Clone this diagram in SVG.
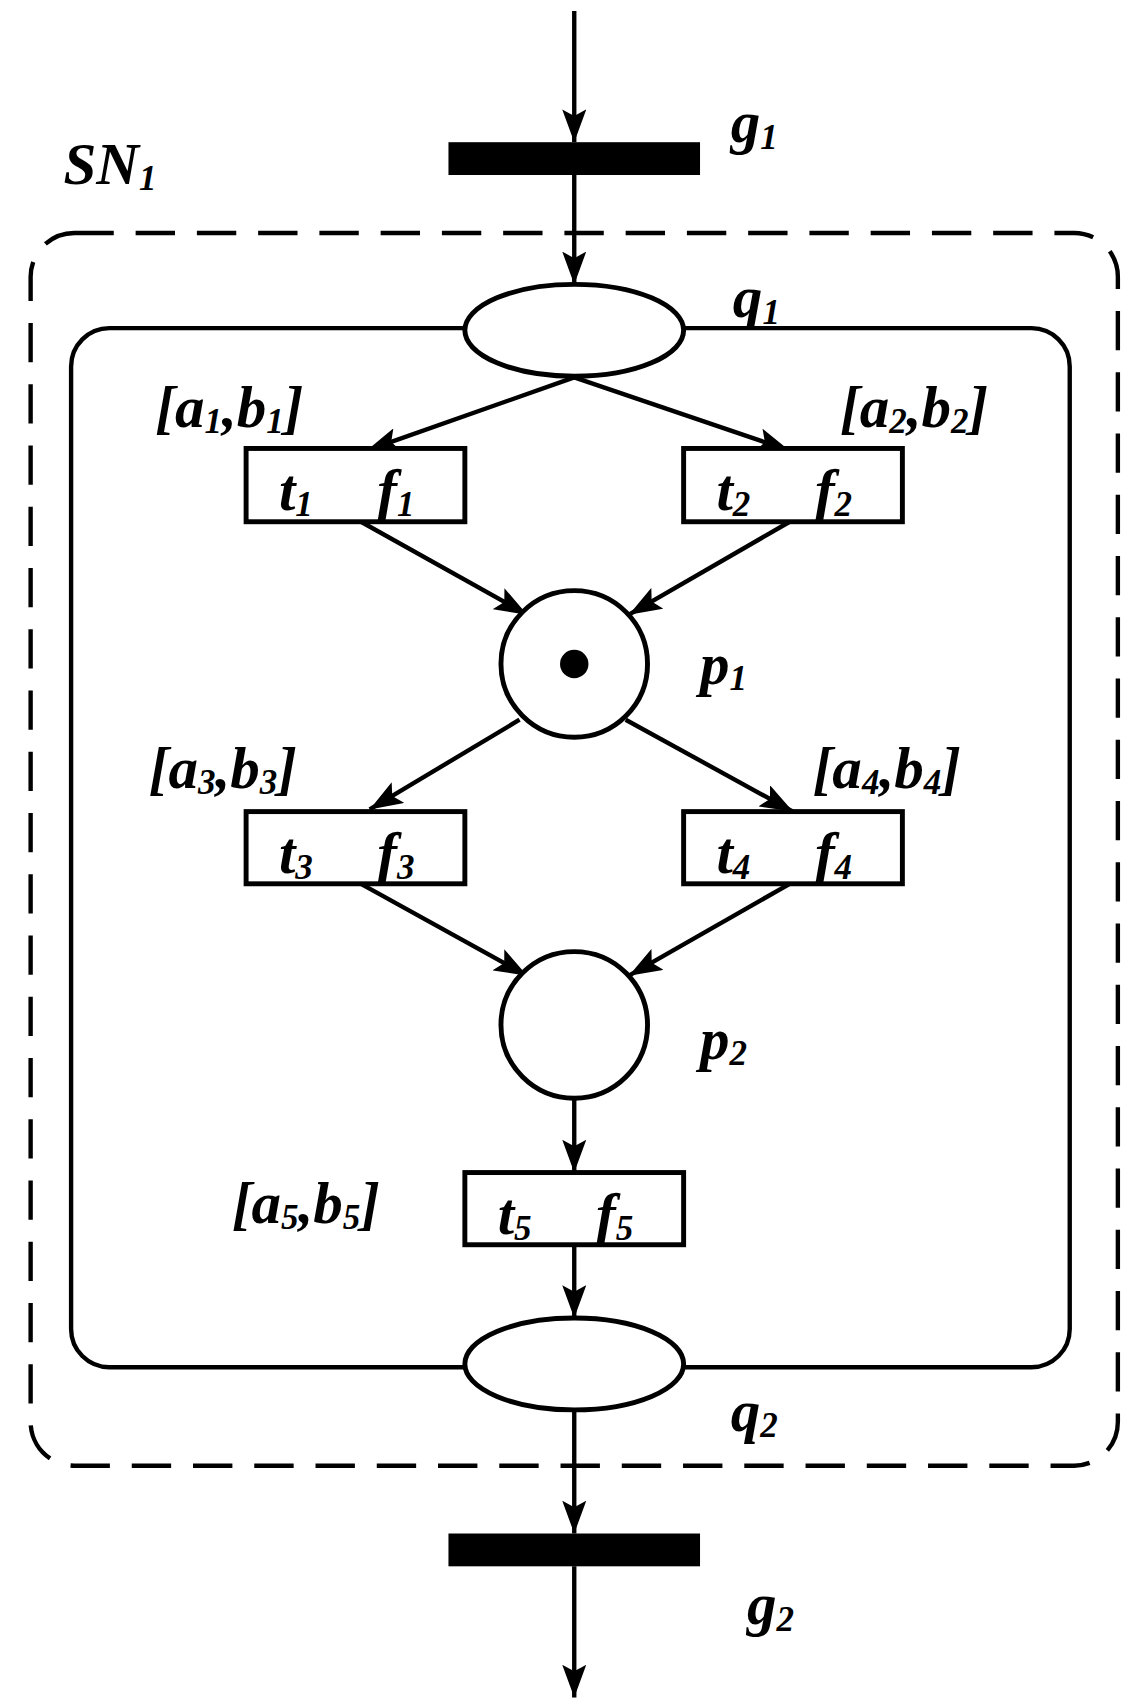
<svg xmlns="http://www.w3.org/2000/svg" width="1143" height="1705" viewBox="0 0 1143 1705">
<style>
.t{font-family:"Liberation Serif",serif;font-weight:bold;font-style:italic;font-size:54px;fill:#000}
.s{font-size:32px}
.ln{stroke:#000;stroke-width:4;fill:none}
.nd{stroke:#000;stroke-width:4.5;fill:#fff}
</style>
<defs>
<marker id="ah" markerUnits="userSpaceOnUse" markerWidth="32" markerHeight="22" refX="30" refY="11" orient="auto">
<path d="M0,0 L30,11 L0,22 L6,11 z" fill="#000"/>
</marker>
</defs>
<rect width="1143" height="1705" fill="#fff"/>
<g transform="scale(1.0938)">
<g id="containers">
<rect x="28" y="213" width="994" height="1127" rx="40" fill="none" stroke="#000" stroke-width="4" stroke-dasharray="36,20"/>
<rect x="65" y="300" width="913" height="950" rx="35" class="ln"/>
</g>
<g id="connectors" class="ln">
<line x1="525" y1="10" x2="525" y2="130" marker-end="url(#ah)"/>
<line x1="525" y1="160" x2="525" y2="260" marker-end="url(#ah)"/>
<line x1="525" y1="345" x2="335" y2="412" marker-end="url(#ah)"/>
<line x1="525" y1="345" x2="722" y2="412" marker-end="url(#ah)"/>
<line x1="330" y1="477" x2="482" y2="562" marker-end="url(#ah)"/>
<line x1="722" y1="477" x2="575" y2="562" marker-end="url(#ah)"/>
<line x1="475" y1="658" x2="338" y2="740" marker-end="url(#ah)"/>
<line x1="572" y1="658" x2="725" y2="742" marker-end="url(#ah)"/>
<line x1="330" y1="808" x2="482" y2="892" marker-end="url(#ah)"/>
<line x1="722" y1="808" x2="575" y2="892" marker-end="url(#ah)"/>
<line x1="525" y1="1004" x2="525" y2="1072" marker-end="url(#ah)"/>
<line x1="525" y1="1138" x2="525" y2="1205" marker-end="url(#ah)"/>
<line x1="525" y1="1289" x2="525" y2="1402" marker-end="url(#ah)"/>
<line x1="525" y1="1432" x2="525" y2="1552" marker-end="url(#ah)"/>
</g>
<g id="g1"><rect x="410" y="130" width="230" height="30" fill="#000"/><text class="t" x="668" y="130">g<tspan class="s" dy="6">1</tspan></text></g>
<g id="sn1"><text class="t" x="58" y="168">SN<tspan class="s" dy="6">1</tspan></text></g>
<g id="q1"><ellipse cx="525" cy="302" rx="100" ry="42" class="nd"/><text class="t" x="670" y="290">q<tspan class="s" dy="6">1</tspan></text></g>
<g id="t1"><rect x="225" y="410" width="200" height="67" class="nd"/><text class="t" x="255" y="466">t<tspan class="s" dy="6">1</tspan></text><text class="t" x="345" y="466">f<tspan class="s" dy="6">1</tspan></text><text class="t" x="142" y="390">[a<tspan class="s" dy="6">1</tspan><tspan dy="-6">,b</tspan><tspan class="s" dy="6">1</tspan><tspan dy="-6">]</tspan></text></g>
<g id="t2"><rect x="625" y="410" width="200" height="67" class="nd"/><text class="t" x="655" y="466">t<tspan class="s" dy="6">2</tspan></text><text class="t" x="745" y="466">f<tspan class="s" dy="6">2</tspan></text><text class="t" x="768" y="390">[a<tspan class="s" dy="6">2</tspan><tspan dy="-6">,b</tspan><tspan class="s" dy="6">2</tspan><tspan dy="-6">]</tspan></text></g>
<g id="p1"><circle cx="525" cy="607" r="67" class="nd"/><circle cx="525" cy="607" r="13" fill="#000"/><text class="t" x="640" y="625">p<tspan class="s" dy="6">1</tspan></text></g>
<g id="t3"><rect x="225" y="742" width="200" height="66" class="nd"/><text class="t" x="255" y="798">t<tspan class="s" dy="6">3</tspan></text><text class="t" x="345" y="798">f<tspan class="s" dy="6">3</tspan></text><text class="t" x="136" y="720">[a<tspan class="s" dy="6">3</tspan><tspan dy="-6">,b</tspan><tspan class="s" dy="6">3</tspan><tspan dy="-6">]</tspan></text></g>
<g id="t4"><rect x="625" y="742" width="200" height="66" class="nd"/><text class="t" x="655" y="798">t<tspan class="s" dy="6">4</tspan></text><text class="t" x="745" y="798">f<tspan class="s" dy="6">4</tspan></text><text class="t" x="743" y="720">[a<tspan class="s" dy="6">4</tspan><tspan dy="-6">,b</tspan><tspan class="s" dy="6">4</tspan><tspan dy="-6">]</tspan></text></g>
<g id="p2"><circle cx="525" cy="937" r="67" class="nd"/><text class="t" x="640" y="968">p<tspan class="s" dy="6">2</tspan></text></g>
<g id="t5"><rect x="425" y="1072" width="200" height="66" class="nd"/><text class="t" x="455" y="1128">t<tspan class="s" dy="6">5</tspan></text><text class="t" x="545" y="1128">f<tspan class="s" dy="6">5</tspan></text><text class="t" x="212" y="1118">[a<tspan class="s" dy="6">5</tspan><tspan dy="-6">,b</tspan><tspan class="s" dy="6">5</tspan><tspan dy="-6">]</tspan></text></g>
<g id="q2"><ellipse cx="525" cy="1247" rx="100" ry="42" class="nd"/><text class="t" x="668" y="1308">q<tspan class="s" dy="6">2</tspan></text></g>
<g id="g2"><rect x="410" y="1402" width="230" height="30" fill="#000"/><text class="t" x="683" y="1485">g<tspan class="s" dy="6">2</tspan></text></g>
</g>
</svg>
